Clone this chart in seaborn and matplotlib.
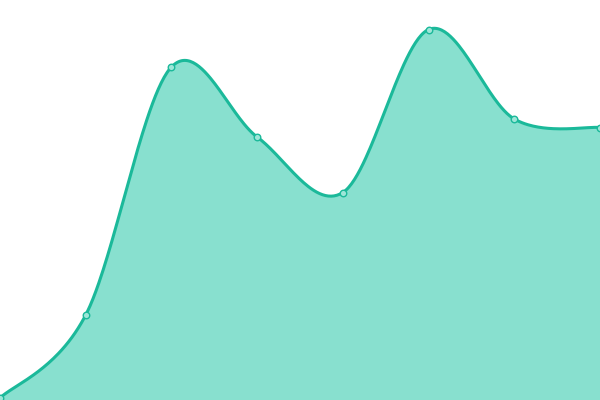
import numpy as np
import pandas as pd
import seaborn as sns
import matplotlib
matplotlib.use("Agg")
import matplotlib.pyplot as plt

# values (y axis 0..400, 8 evenly spaced categories)
categories = list(range(8))
values = [2, 85, 333, 263, 207.5, 370.5, 281, 272.5]

line_color = "#1bb99a"
fill_color = "#88e0cf"

sns.set_style("white")

x_max = len(categories) - 1
y_max = 400


def smooth_curve(xs, ys, n=60):
    # cardinal (catmull-rom) bezier smoothing
    pts = np.column_stack([np.array(xs, float), np.array(ys, float)])
    cps = []
    for i in range(len(pts)):
        p = pts[i]
        prev = pts[i - 1] if i > 0 else p
        nxt = pts[i + 1] if i < len(pts) - 1 else p
        v = (nxt - prev) / 6
        cps.append((p - v, p + v))
    out = [pts[:1]]
    t = np.linspace(0, 1, n)[1:, None]
    for i in range(len(pts) - 1):
        a, b = pts[i], pts[i + 1]
        c1, c2 = cps[i][1], cps[i + 1][0]
        seg = ((1 - t) ** 3) * a + 3 * ((1 - t) ** 2) * t * c1 + 3 * (1 - t) * t ** 2 * c2 + t ** 3 * b
        out.append(seg)
    out = np.vstack(out)
    return out[:, 0], out[:, 1]


cx, cy = smooth_curve(categories, values)
curve = pd.DataFrame({"x": cx, "y": cy})
points = pd.DataFrame({"x": categories, "y": values})

fig = plt.figure(figsize=(6, 4), dpi=100)
ax = fig.add_axes([0, 0, 1, 1])

ax.fill_between(curve["x"], curve["y"], 0, color=fill_color, linewidth=0)
sns.lineplot(data=curve, x="x", y="y", sort=False, color=line_color, linewidth=2.2, ax=ax)
sns.scatterplot(data=points, x="x", y="y", s=22, color="#9ee6d8", edgecolor=line_color,
                linewidth=1, zorder=5, ax=ax, clip_on=False)

ax.set_xlim(0, x_max)
ax.set_ylim(0, y_max)
ax.axis("off")

fig.savefig("out.png", dpi=100)
